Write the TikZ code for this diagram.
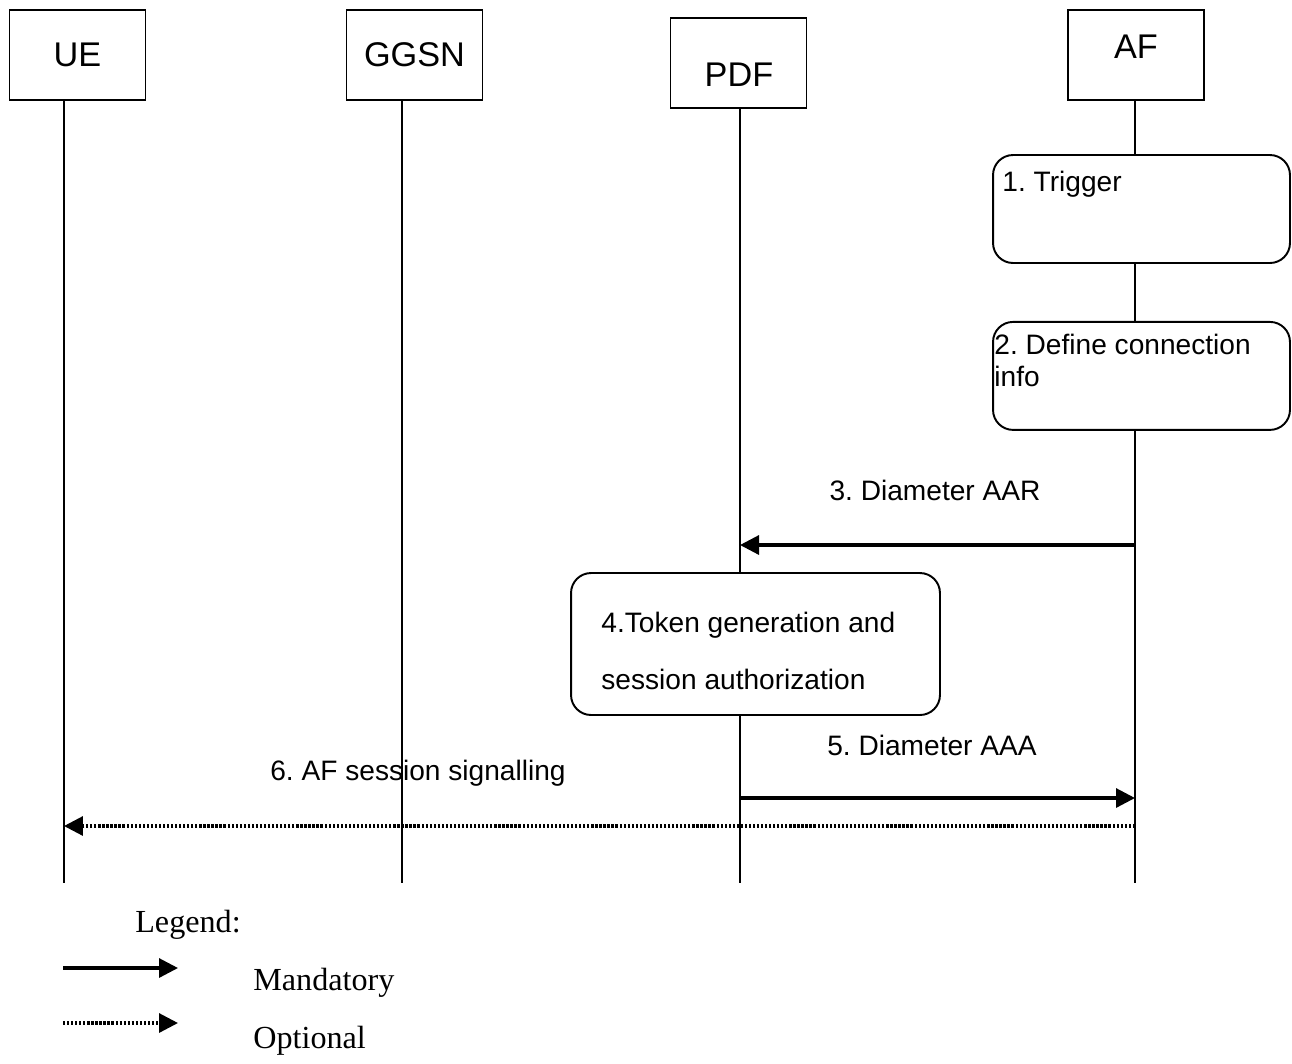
\documentclass[tikz,border=0pt]{standalone}
\usepackage{fontspec}
\setmainfont{Liberation Sans}
\newfontfamily\legendfont{Liberation Serif}
\usetikzlibrary{arrows.meta,positioning}
\frenchspacing

\tikzset{
  entity/.style={draw, line width=1.1pt, minimum width=2.72cm, minimum height=1.8cm,
    font=\fontsize{19.5}{22}\selectfont},
  life/.style={line width=1.3pt},
  stepbox/.style={draw, fill=white, rounded corners=0.4cm, line width=1.1pt,
    minimum width=5.94cm, minimum height=2.16cm},
  steptext/.style={anchor=north west, inner sep=0pt, align=left,
    font=\fontsize{16}{18}\selectfont},
  msglabel/.style={font=\fontsize{16}{19}\selectfont},
  mand/.style={line width=1.8pt, -{Triangle[length=0.38cm,width=0.38cm]}},
  opt/.style={line width=1.8pt, dash pattern=on 1.3pt off 1pt,
    -{Triangle[length=0.38cm,width=0.38cm]}},
  legendtext/.style={anchor=west, inner sep=0pt, font=\legendfont\fontsize{18.3}{21}\selectfont}
}

\begin{document}
\begin{tikzpicture}[x=0.02cm,y=-0.02cm]
  \useasboundingbox (0,0) rectangle (1292,1063);

  % entities
  \node[entity] (ue)   at (77.5,55)  {UE};
  \node[entity] (ggsn) at (414.5,55) {GGSN};
  \node[entity] (pdf)  at (738.5,63) {};
  \node[entity] (af)   at (1136,55)  {};
  \node[font=\fontsize{19.5}{22}\selectfont] (pdf-txt) at (739,75) {PDF};
  \node[font=\fontsize{19.5}{22}\selectfont] (af-txt) at (1136,47) {AF};

  % lifelines
  \foreach \n/\x/\t in {ue/64/100, ggsn/402/100, pdf/740/108, af/1135/100}
    \draw[life] (\x,\t) coordinate (\n-top) -- (\x,883) coordinate (\n-bot);

  % steps
  \node[stepbox] (trigger) at (1141.5,209) {};
  \node[steptext, xshift=0.2cm, yshift=-0.34cm] (trigger-txt) at (trigger.north west) {1. Trigger};
  \node[stepbox] (define) [below=1.14cm of trigger] {};
  \node[steptext, xshift=0.04cm, yshift=-0.26cm] (define-txt) at (define.north west)
    {2. Define connection\\info};
  \node[stepbox, minimum width=7.38cm, minimum height=2.84cm] (token) at (755.5,644) {};
  \node[anchor=west, inner sep=0pt, align=left, font=\fontsize{16}{32}\selectfont,
        xshift=0.62cm, yshift=-0.14cm] (token-txt) at (token.west)
    {4.Token generation and\\session authorization};

  % messages
  \node[msglabel] (aar-lbl) at (935,490) {3. Diameter AAR};
  \draw[mand] (af-top |- 0,545) -- (pdf-top |- 0,545);
  \node[msglabel] (aaa-lbl) at (932,745) {5. Diameter AAA};
  \draw[mand] (pdf-top |- 0,798) -- (af-top |- 0,798);
  \node[msglabel] (sig-lbl) at (418,773) {6. AF session signalling};
  \draw[opt] (af-top |- 0,826) -- (ue-top |- 0,826);

  % legend
  \node[legendtext] (legend) at (135,925) {Legend:};
  \coordinate (lm-a) at (63,968);
  \coordinate (lm-b) at (178,968);
  \coordinate (lo-a) at (63,1023);
  \coordinate (lo-b) at (178,1023);
  \draw[mand] (lm-a) -- (lm-b);
  \draw[opt] (lo-a) -- (lo-b);
  \node[legendtext] (mand-txt) at (253,983) {Mandatory};
  \node[legendtext] (opt-txt) at (253,1041) {Optional};
\end{tikzpicture}
\end{document}
